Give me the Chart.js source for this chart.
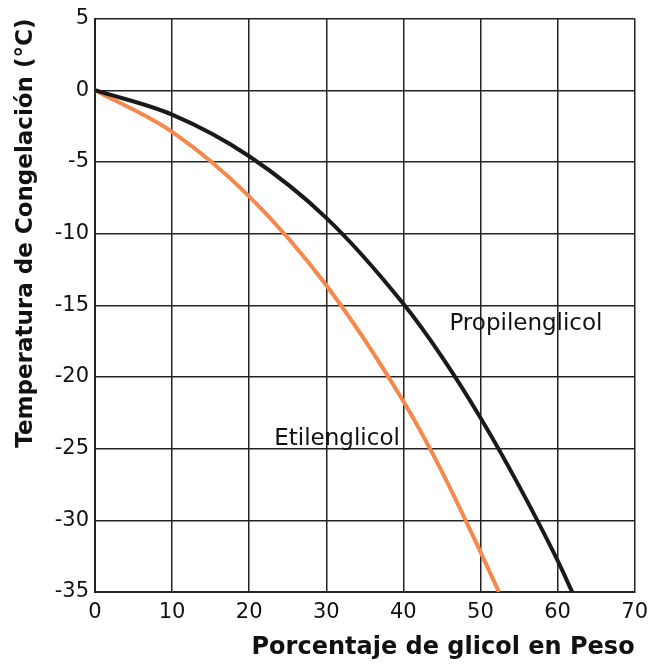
<!DOCTYPE html>
<html>
<head>
<meta charset="utf-8">
<script src="https://cdn.jsdelivr.net/npm/chart.js@4.4.0/dist/chart.umd.min.js"></script>
<style>
  html, body { margin: 0; padding: 0; background: #fff; }
  #wrap { width: 656px; height: 666px; }
</style>
</head>
<body>
<div id="wrap"><canvas id="grafico"></canvas></div>
<script>
// porcentaje de glicol (x) y temperatura de congelacion (y)
const propX = [0, 10, 20, 30, 40, 45, 50, 55, 60, 61.9];
const propY = [0, -1.7, -4.6, -8.9, -14.9, -18.6, -22.85, -27.6, -32.8, -35];
const etilX = [0, 10, 20, 30, 40, 45, 50, 52.4];
const etilY = [0, -2.9, -7.4, -13.6, -21.7, -26.6, -32.2, -35];

const xTicks = [0, 10, 20, 30, 40, 50, 60, 70];
const yTicks = [5, 0, -5, -10, -15, -20, -25, -30, -35];

const toPoints = (xs, ys) => xs.map((x, i) => ({ x: x, y: ys[i] }));

const FONT = "'DejaVu Sans', sans-serif";

// etiquetas de las curvas dentro del grafico
const curveLabels = {
  id: 'curveLabels',
  afterDatasetsDraw(chart) {
    const c = chart.ctx;
    const xs = chart.scales.x, ys = chart.scales.y;
    c.save();
    c.font = '23px ' + FONT;
    c.fillStyle = '#111';
    c.textAlign = 'center';
    c.textBaseline = 'middle';
    c.fillText('Propilenglicol', xs.getPixelForValue(55.9), ys.getPixelForValue(-16.3));
    c.fillText('Etilenglicol', xs.getPixelForValue(31.4), ys.getPixelForValue(-24.3));
    c.restore();
  }
};

const ctx = document.getElementById('grafico').getContext('2d');
new Chart(ctx, {
  type: 'line',
  data: {
    datasets: [
      {
        label: 'Propilenglicol',
        data: toPoints(propX, propY),
        borderColor: '#1a1a1a',
        borderWidth: 4,
        pointRadius: 0,
        cubicInterpolationMode: 'monotone'
      },
      {
        label: 'Etilenglicol',
        data: toPoints(etilX, etilY),
        borderColor: '#f5884a',
        borderWidth: 4,
        pointRadius: 0,
        cubicInterpolationMode: 'monotone'
      }
    ]
  },
  options: {
    responsive: true,
    maintainAspectRatio: false,
    animation: false,
    layout: { padding: { top: 18, right: 18, left: 0, bottom: 0 } },
    plugins: {
      legend: { display: false },
      tooltip: { enabled: false }
    },
    scales: {
      x: {
        type: 'linear',
        min: 0,
        max: 70,
        afterBuildTicks: s => { s.ticks = xTicks.map(v => ({ value: v })); },
        afterFit: s => { s.height = 74; },
        grid: { color: '#222', lineWidth: 1.5, drawTicks: false },
        border: { color: '#222', width: 2 },
        ticks: { color: '#111', font: { family: FONT, size: 21 }, padding: 8, maxRotation: 0 },
        title: {
          display: true,
          text: 'Porcentaje de glicol en Peso',
          align: 'end',
          color: '#111',
          font: { family: FONT, size: 24, weight: 'bold' },
          padding: { top: 0 }
        }
      },
      y: {
        type: 'linear',
        min: -35,
        max: 5,
        afterBuildTicks: s => { s.ticks = yTicks.map(v => ({ value: v })); },
        afterFit: s => { s.width = 95; },
        grid: { color: '#222', lineWidth: 1.5, drawTicks: false },
        border: { color: '#222', width: 2 },
        ticks: { color: '#111', font: { family: FONT, size: 21 }, padding: 6 },
        title: {
          display: true,
          text: 'Temperatura de Congelación (°C)',
          align: 'end',
          color: '#111',
          font: { family: FONT, size: 23, weight: 'bold' },
          padding: { top: 12, bottom: 0 }
        }
      }
    }
  },
  plugins: [curveLabels]
});
</script>
</body>
</html>
